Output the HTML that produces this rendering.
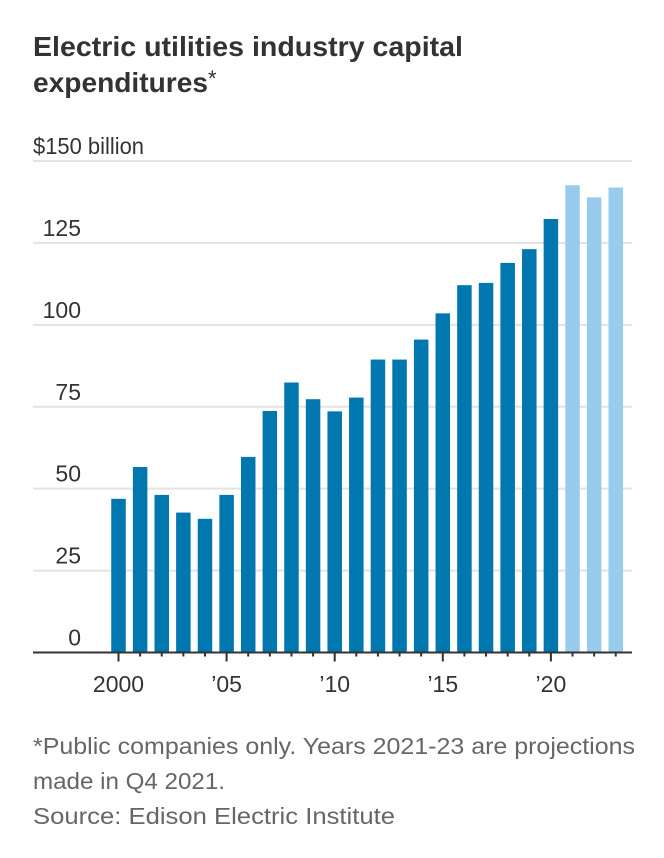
<!DOCTYPE html>
<html><head><meta charset="utf-8"><style>
html,body{margin:0;padding:0;background:#fff;}
svg{display:block;font-family:"Liberation Sans",sans-serif;}
</style></head><body>
<svg id="chart" width="664" height="858" viewBox="0 0 664 858">
<text x="33" y="56" font-size="28" font-weight="bold" fill="#333" textLength="430" lengthAdjust="spacingAndGlyphs">Electric utilities industry capital</text>
<text x="33" y="92" font-size="28" font-weight="bold" fill="#333" textLength="175" lengthAdjust="spacingAndGlyphs">expenditures</text>
<text x="208" y="86" font-size="22" fill="#333">*</text>
<g id="grid"></g>
<g id="bars"></g>
<g id="xaxis"></g>
<text x="33" y="754" font-size="23" fill="#666" textLength="602" lengthAdjust="spacingAndGlyphs">*Public companies only. Years 2021-23 are projections</text>
<text x="33" y="789" font-size="23" fill="#666" textLength="192" lengthAdjust="spacingAndGlyphs">made in Q4 2021.</text>
<text x="33" y="824" font-size="23" fill="#666" textLength="362" lengthAdjust="spacingAndGlyphs">Source: Edison Electric Institute</text>
</svg>
<script>
const years = [2000,2001,2002,2003,2004,2005,2006,2007,2008,2009,2010,2011,2012,2013,2014,2015,2016,2017,2018,2019,2020,2021,2022,2023];
const values = [46.9,56.6,48.1,42.7,40.8,48.1,59.7,73.7,82.4,77.3,73.6,77.8,89.4,89.4,95.5,103.5,112.1,112.8,118.9,123.1,132.3,142.6,138.9,141.9];
const projected = [0,0,0,0,0,0,0,0,0,0,0,0,0,0,0,0,0,0,0,0,0,1,1,1];
const yTicks = [0,25,50,75,100,125,150];
const yTickLabels = ["0","25","50","75","100","125","$150 billion"];
const xTickLabels = {2000:"2000",2005:"\u201905",2010:"\u201910",2015:"\u201915",2020:"\u201920"};

const NS="http://www.w3.org/2000/svg";
const x0=33,x1=632,yBase=652.5,yTop=161;
function y(v){return yBase-(v/150)*(yBase-yTop);}
function xc(yr){return 118.5+(yr-2000)*21.62;}
const bw=14.5;
function mk(tag,attrs,parent){const e=document.createElementNS(NS,tag);for(const k in attrs)e.setAttribute(k,attrs[k]);parent.appendChild(e);return e;}
const grid=document.getElementById('grid'),bars=document.getElementById('bars'),xa=document.getElementById('xaxis');
yTicks.forEach((t,i)=>{
  if(t>0){const l=mk('line',{x1:x0,x2:x1,y1:y(t),y2:y(t),stroke:'#e3e3e3','stroke-width':2},grid);
  
  }
  const isTop=i===yTicks.length-1;
  const tx=mk('text',{x:isTop?33:81,y:y(t)-7,'font-size':23,fill:'#333','text-anchor':isTop?'start':'end'},grid);
  if(isTop){tx.setAttribute('textLength','111');tx.setAttribute('lengthAdjust','spacingAndGlyphs');}
  tx.textContent=yTickLabels[i];
  
  
});
years.forEach((yr,i)=>{
  const r=mk('rect',{x:xc(yr)-bw/2,y:y(values[i]),width:bw,height:yBase-y(values[i]),fill:projected[i]?'#99cbec':'#0077ae'},bars);
  
  
  const major=xTickLabels[yr]!==undefined;
  const tk=mk('line',{x1:xc(yr),x2:xc(yr),y1:yBase,y2:yBase+(major?9:4),stroke:'#333','stroke-width':2},xa);
  
  
  if(major){const t=mk('text',{x:xc(yr),y:692,'font-size':23,fill:'#333','text-anchor':'middle'},xa);
    t.textContent=xTickLabels[yr];
    
    }
});
const ax=mk('line',{x1:x0,x2:x1,y1:yBase,y2:yBase,stroke:'#333','stroke-width':2},xa);


</script>
</body></html>
